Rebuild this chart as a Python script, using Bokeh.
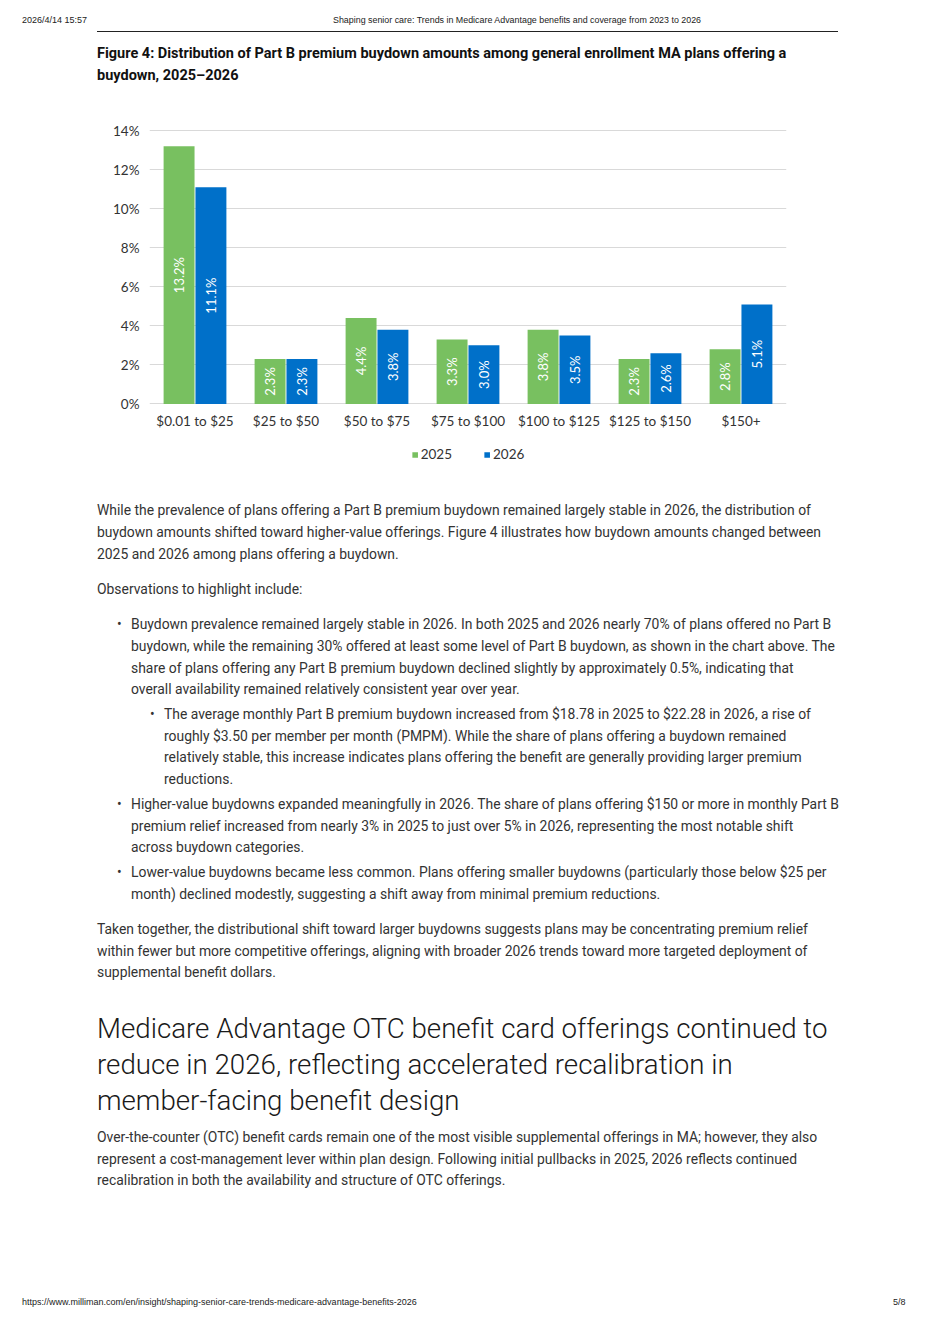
import html
from bokeh.plotting import figure
from bokeh.models import (ColumnDataSource, FactorRange, Range1d, FixedTicker,
                          PrintfTickFormatter, LabelSet, Legend, LegendItem, Div)
from bokeh.transform import dodge
from bokeh.layouts import column
from bokeh.embed import file_html
from bokeh.resources import INLINE
from bokeh.core.properties import value

# ---------------- data ----------------
categories = ["$0.01 to $25", "$25 to $50", "$50 to $75", "$75 to $100",
              "$100 to $125", "$125 to $150", "$150+"]
share_2025 = [13.2, 2.3, 4.4, 3.3, 3.8, 2.3, 2.8]
share_2026 = [11.1, 2.3, 3.8, 3.0, 3.5, 2.6, 5.1]
series_names = ["2025", "2026"]
y_ticks = [0, 2, 4, 6, 8, 10, 12, 14]

GREEN = "#78C060"
BLUE = "#0070C9"
CHART_FONT = "Lato"
BODY_FONT = "Roboto"
W = 936

source = ColumnDataSource(dict(
    cat=categories,
    a=share_2025,
    b=share_2026,
    a_mid=[v / 2 for v in share_2025],
    b_mid=[v / 2 for v in share_2026],
    a_lab=[f"{v:.1f}%" for v in share_2025],
    b_lab=[f"{v:.1f}%" for v in share_2026],
))

# ---------------- chart ----------------
CH_TOP, CH_H = 100, 340
p = figure(x_range=FactorRange(*categories), y_range=Range1d(-0.03, 14.06),
           width=W, height=CH_H, output_backend="svg", toolbar_location=None,
           min_border_left=149, min_border_right=150, min_border_top=29,
           min_border_bottom=36, outline_line_color=None)

off = 0.175
bw = 0.34
r1 = p.vbar(x=dodge("cat", -off, range=p.x_range), top="a", width=bw,
            source=source, fill_color=GREEN, line_color=None)
r2 = p.vbar(x=dodge("cat", off, range=p.x_range), top="b", width=bw,
            source=source, fill_color=BLUE, line_color=None)

for xo, ycol, tcol in ((-off, "a_mid", "a_lab"), (off, "b_mid", "b_lab")):
    p.add_layout(LabelSet(x=dodge("cat", xo, range=p.x_range), y=ycol, text=tcol,
                          source=source, angle=90, angle_units="deg",
                          text_align="center", text_baseline="middle",
                          text_color="white", text_font=value(CHART_FONT),
                          text_font_size="13px"))

p.xgrid.grid_line_color = None
p.ygrid.grid_line_color = "#D9D9D9"
p.ygrid.grid_line_width = 1

p.yaxis.ticker = FixedTicker(ticks=y_ticks)
p.yaxis.formatter = PrintfTickFormatter(format="%d%%")
for ax in (p.xaxis, p.yaxis):
    ax.axis_line_color = None
    ax.major_tick_line_color = None
    ax.minor_tick_line_color = None
    ax.major_tick_out = 0
    ax.major_tick_in = 0
    ax.major_label_text_font = CHART_FONT
    ax.major_label_text_font_size = "13.5px"
    ax.major_label_text_color = "#333333"
p.yaxis.major_label_standoff = 10
p.xaxis.major_label_standoff = 8

# ---------------- legend strip (own small figure, same data out of view) ----
LG_H = 28
lg = figure(width=W, height=LG_H, x_range=FactorRange(*categories),
            y_range=Range1d(100, 101), output_backend="svg",
            toolbar_location=None, min_border=0, outline_line_color=None)
lg.axis.visible = False
lg.grid.visible = False
k1 = lg.vbar(x=dodge("cat", -off, range=lg.x_range), top="a", width=bw,
             source=source, fill_color=GREEN, line_color=None)
k2 = lg.vbar(x=dodge("cat", off, range=lg.x_range), top="b", width=bw,
             source=source, fill_color=BLUE, line_color=None)
legend = Legend(items=[LegendItem(label=series_names[0], renderers=[k1]),
                       LegendItem(label=series_names[1], renderers=[k2])],
                orientation="horizontal", location="center",
                glyph_width=7, glyph_height=7, label_height=16,
                label_standoff=3, spacing=31, padding=4, margin=0,
                border_line_color=None, background_fill_alpha=0,
                label_text_font=CHART_FONT, label_text_font_size="13.5px",
                label_text_color="#333333")
lg.add_layout(legend)

# ---------------- text helpers ----------------
def line(text, left, cy, top0, size, lh, family, weight=400, color="#333333"):
    top = cy - top0 - lh / 2
    return (f'<div style="position:absolute;left:{left}px;top:{top}px;'
            f'font-family:\'{family}\';font-size:{size}px;line-height:{lh}px;'
            f'font-weight:{weight};color:{color};white-space:nowrap;">'
            f'{html.escape(text)}</div>')

def block(lines, left, cys, top0, size, lh, family, weight=400, color="#333333"):
    return "".join(line(t, left, c, top0, size, lh, family, weight, color)
                   for t, c in zip(lines, cys))

# ---------------- header ----------------
TOP0 = 0
head = []
head.append(line("2026/4/14 15:57", 22, 20, TOP0, 9, 12, "Liberation Sans", 400, "#222"))
head.append(line("Shaping senior care: Trends in Medicare Advantage benefits and coverage from 2023 to 2026",
                 333, 20, TOP0, 8.9, 12, "Liberation Sans", 400, "#222"))
head.append('<div style="position:absolute;left:97px;top:31px;width:741px;height:0;'
            'border-top:1px solid #222;"></div>')
fig_title = ["Figure 4: Distribution of Part B premium buydown amounts among general enrollment MA plans offering a",
             "buydown, 2025\u20132026"]
head.append(block(fig_title, 97, [54, 76], TOP0, 14.5, 22, BODY_FONT, 700, "#111"))
top_div = Div(text=f'<div style="position:relative;width:{W}px;height:{CH_TOP}px;">' + "".join(head) + '</div>',
              width=W, height=CH_TOP, margin=(0, 0, 0, 0), disable_math=True)

# ---------------- body ----------------
TOP1 = CH_TOP + CH_H + LG_H
BOT_H = 1324 - TOP1
FS = 13.9
body = []
p1 = ["While the prevalence of plans offering a Part B premium buydown remained largely stable in 2026, the distribution of",
      "buydown amounts shifted toward higher-value offerings. Figure 4 illustrates how buydown amounts changed between",
      "2025 and 2026 among plans offering a buydown."]
body.append(block(p1, 97, [510, 532, 554], TOP1, FS, 22, BODY_FONT))
body.append(line("Observations to highlight include:", 97, 589, TOP1, FS, 22, BODY_FONT))

b1 = ["Buydown prevalence remained largely stable in 2026. In both 2025 and 2026 nearly 70% of plans offered no Part B",
      "buydown, while the remaining 30% offered at least some level of Part B buydown, as shown in the chart above. The",
      "share of plans offering any Part B premium buydown declined slightly by approximately 0.5%, indicating that",
      "overall availability remained relatively consistent year over year."]
body.append(line("\u2022", 117, 624, TOP1, FS, 22, BODY_FONT))
body.append(block(b1, 131, [624, 646, 668, 689], TOP1, FS, 22, BODY_FONT))

sb = ["The average monthly Part B premium buydown increased from $18.78 in 2025 to $22.28 in 2026, a rise of",
      "roughly $3.50 per member per month (PMPM). While the share of plans offering a buydown remained",
      "relatively stable, this increase indicates plans offering the benefit are generally providing larger premium",
      "reductions."]
body.append(line("\u2022", 150, 714, TOP1, FS, 22, BODY_FONT))
body.append(block(sb, 164, [714, 736, 757, 779], TOP1, FS, 22, BODY_FONT))

b2 = ["Higher-value buydowns expanded meaningfully in 2026. The share of plans offering $150 or more in monthly Part B",
      "premium relief increased from nearly 3% in 2025 to just over 5% in 2026, representing the most notable shift",
      "across buydown categories."]
body.append(line("\u2022", 117, 804, TOP1, FS, 22, BODY_FONT))
body.append(block(b2, 131, [804, 826, 847], TOP1, FS, 22, BODY_FONT))

b3 = ["Lower-value buydowns became less common. Plans offering smaller buydowns (particularly those below $25 per",
      "month) declined modestly, suggesting a shift away from minimal premium reductions."]
body.append(line("\u2022", 117, 872, TOP1, FS, 22, BODY_FONT))
body.append(block(b3, 131, [872, 894], TOP1, FS, 22, BODY_FONT))

p2 = ["Taken together, the distributional shift toward larger buydowns suggests plans may be concentrating premium relief",
      "within fewer but more competitive offerings, aligning with broader 2026 trends toward more targeted deployment of",
      "supplemental benefit dollars."]
body.append(block(p2, 97, [929, 951, 972], TOP1, FS, 22, BODY_FONT))

h2 = ["Medicare Advantage OTC benefit card offerings continued to",
      "reduce in 2026, reflecting accelerated recalibration in",
      "member-facing benefit design"]
body.append(block(h2, 97, [1029, 1065, 1101], TOP1, 27.7, 36, BODY_FONT, 300, "#1a1a1a"))

p3 = ["Over-the-counter (OTC) benefit cards remain one of the most visible supplemental offerings in MA; however, they also",
      "represent a cost-management lever within plan design. Following initial pullbacks in 2025, 2026 reflects continued",
      "recalibration in both the availability and structure of OTC offerings."]
body.append(block(p3, 97, [1137, 1159, 1180], TOP1, FS, 22, BODY_FONT))

body.append(line("https://www.milliman.com/en/insight/shaping-senior-care-trends-medicare-advantage-benefits-2026",
                 22, 1302, TOP1, 9, 12, "Liberation Sans", 400, "#222"))
body.append(line("5/8", 893, 1302, TOP1, 9, 12, "Liberation Sans", 400, "#222"))

bottom_div = Div(text=f'<div style="position:relative;width:{W}px;height:{BOT_H}px;">' + "".join(body) + '</div>',
                 width=W, height=BOT_H, margin=(0, 0, 0, 0), disable_math=True)

layout = column(top_div, p, lg, bottom_div, spacing=0)
open("out.html", "w").write(file_html(layout, INLINE))
